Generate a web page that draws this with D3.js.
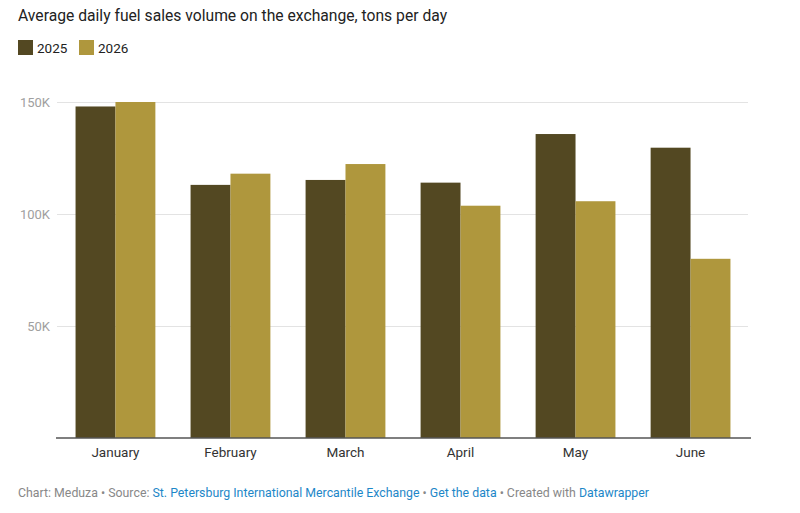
<!DOCTYPE html>
<html>
<head>
<meta charset="utf-8">
<script src="https://cdn.jsdelivr.net/npm/d3@7"></script>
<style>
  body { margin: 0; background: #fff; font-family: Roboto, "Noto Sans", sans-serif; }
</style>
</head>
<body>
<div id="chart"></div>
<script>
// data
var months = ['January', 'February', 'March', 'April', 'May', 'June']
var years = ['2025', '2026']
var values2025 = [148000, 113000, 115200, 114000, 135700, 129600]
var values2026 = [150000, 118000, 122300, 103700, 105700, 80000]
var yTicks = [50000, 100000, 150000]
var yTickLabels = ['50K', '100K', '150K']

var colors = { '2025': '#534822', '2026': '#af973d' }

var width = 800
var height = 513

var svg = d3
  .select('#chart')
  .append('svg')
  .attr('width', width)
  .attr('height', height)

// shrink/grow font so text spans the width measured on the reference
function fitWidth(sel, target) {
  var fs = +sel.attr('font-size')
  var w = sel.node().getComputedTextLength()
  if (w > 0) sel.attr('font-size', (fs * target / w).toFixed(2))
}

// title
var title = svg
  .append('text')
  .attr('x', 18)
  .attr('y', 21)
  .attr('font-size', 15.6)
  .attr('fill', '#222')
  .text('Average daily fuel sales volume on the exchange, tons per day')
fitWidth(title, 429)

// legend
var legend = svg
  .append('g')
  .selectAll('g')
  .data(years)
  .join('g')
  .attr('transform', (d, i) => 'translate(' + (18 + i * 61) + ',40)')
legend
  .append('rect')
  .attr('width', 15)
  .attr('height', 15)
  .attr('fill', d => colors[d])
legend
  .append('text')
  .attr('x', 19)
  .attr('y', 12.5)
  .attr('font-size', 13.5)
  .attr('fill', '#222')
  .text(d => d)

// scales
var x0 = d3
  .scaleBand()
  .domain(months)
  .range([56, 750])
  .paddingInner(0.306)
  .paddingOuter(0.17)

var x1 = d3.scaleBand().domain(years).range([0, x0.bandwidth()])

var y = d3.scaleLinear().domain([0, 150000]).range([438, 102])

// gridlines
svg
  .append('g')
  .selectAll('line')
  .data(yTicks)
  .join('line')
  .attr('x1', 57)
  .attr('x2', 748)
  .attr('y1', d => y(d) + 0.5)
  .attr('y2', d => y(d) + 0.5)
  .attr('stroke', '#e3e3e3')

// y labels
svg
  .append('g')
  .selectAll('text')
  .data(yTicks)
  .join('text')
  .attr('x', 50)
  .attr('y', d => y(d) + 4.5)
  .attr('text-anchor', 'end')
  .attr('font-size', 13)
  .attr('fill', '#a0a0a0')
  .text((d, i) => yTickLabels[i])

// bars
var rows = months.map((m, i) => ({ month: m, '2025': values2025[i], '2026': values2026[i] }))

var groups = svg
  .append('g')
  .selectAll('g')
  .data(rows)
  .join('g')
  .attr('transform', d => 'translate(' + x0(d.month) + ',0)')

groups
  .selectAll('rect')
  .data(d => years.map(yr => ({ year: yr, value: d[yr] })))
  .join('rect')
  .attr('x', d => x1(d.year))
  .attr('width', x1.bandwidth())
  .attr('y', d => y(d.value))
  .attr('height', d => y(0) - y(d.value))
  .attr('fill', d => colors[d.year])

// baseline
svg
  .append('line')
  .attr('x1', 56)
  .attr('x2', 751)
  .attr('y1', 438)
  .attr('y2', 438)
  .attr('stroke', '#555')
  .attr('stroke-width', 1.5)

// x labels
svg
  .append('g')
  .selectAll('text')
  .data(months)
  .join('text')
  .attr('x', d => x0(d) + x0.bandwidth() / 2)
  .attr('y', 457)
  .attr('text-anchor', 'middle')
  .attr('font-size', 13.5)
  .attr('fill', '#333')
  .text(d => d)

// footer
var footer = svg
  .append('text')
  .attr('x', 18)
  .attr('y', 497)
  .attr('font-size', 12.3)
  .attr('fill', '#888')
var parts = [
  ['Chart: Meduza • Source: ', '#888'],
  ['St. Petersburg International Mercantile Exchange', '#1d87c8'],
  [' • ', '#888'],
  ['Get the data', '#1d87c8'],
  [' • Created with ', '#888'],
  ['Datawrapper', '#1d87c8']
]
parts.forEach(p => {
  footer.append('tspan').attr('fill', p[1]).text(p[0])
})
fitWidth(footer, 631)
</script>
</body>
</html>
